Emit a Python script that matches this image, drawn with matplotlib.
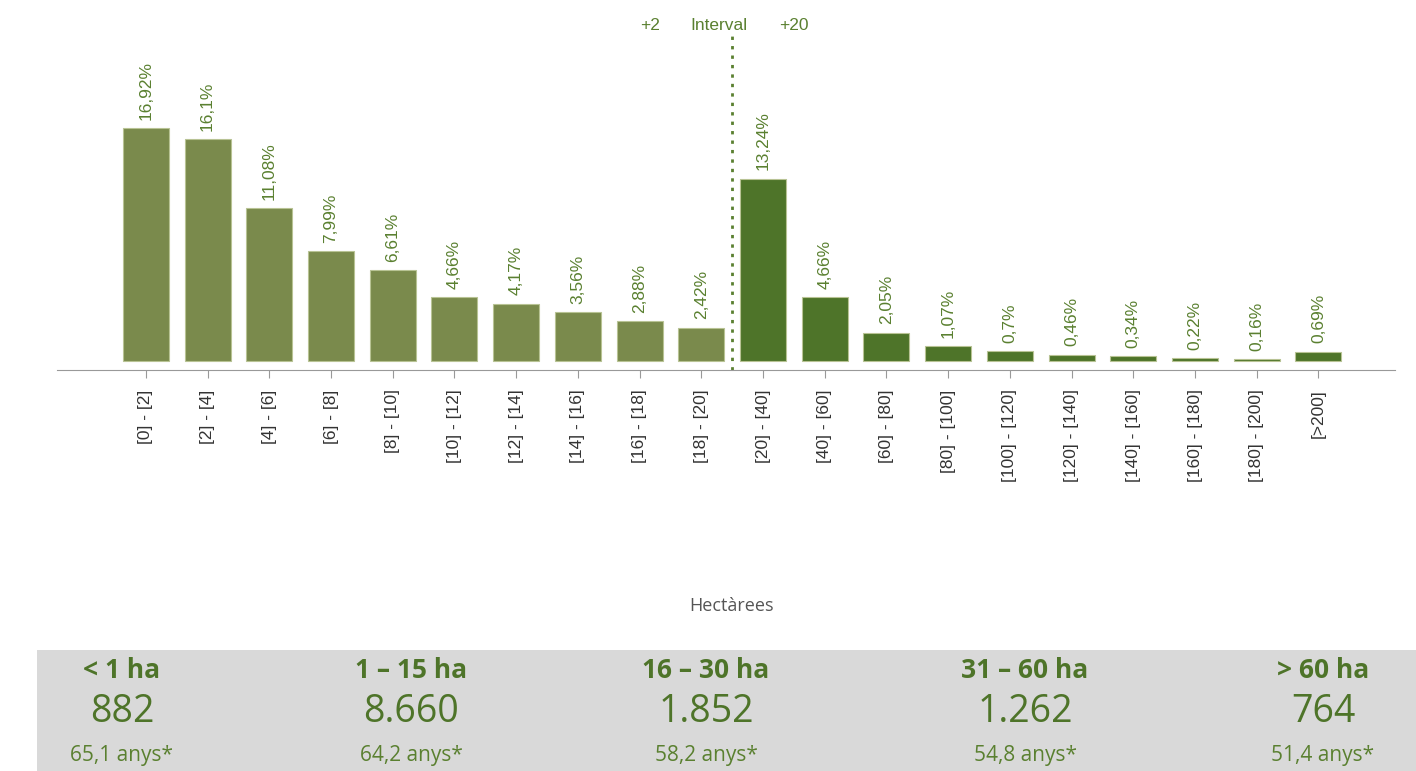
import matplotlib
matplotlib.use('Agg')
import matplotlib.pyplot as plt
from matplotlib.patches import Rectangle

# data
categories = ['[0] - [2]', '[2] - [4]', '[4] - [6]', '[6] - [8]', '[8] - [10]',
              '[10] - [12]', '[12] - [14]', '[14] - [16]', '[16] - [18]', '[18] - [20]',
              '[20] - [40]', '[40] - [60]', '[60] - [80]', '[80] - [100]', '[100] - [120]',
              '[120] - [140]', '[140] - [160]', '[160] - [180]', '[180] - [200]', '[>200]']
percents = [16.92, 16.1, 11.08, 7.99, 6.61, 4.66, 4.17, 3.56, 2.88, 2.42,
            13.24, 4.66, 2.05, 1.07, 0.7, 0.46, 0.34, 0.22, 0.16, 0.69]
labels = ['16,92%', '16,1%', '11,08%', '7,99%', '6,61%', '4,66%', '4,17%', '3,56%', '2,88%', '2,42%',
          '13,24%', '4,66%', '2,05%', '1,07%', '0,7%', '0,46%', '0,34%', '0,22%', '0,16%', '0,69%']
n_small = 10  # bars before the +20 split

groups = ['< 1 ha', '1 – 15 ha', '16 – 30 ha', '31 – 60 ha', '> 60 ha']
counts = ['882', '8.660', '1.852', '1.262', '764']
ages = ['65,1 anys*', '64,2 anys*', '58,2 anys*', '54,8 anys*', '51,4 anys*']
group_x = [122, 411, 706, 1025, 1323]

light = '#7a8a4c'
dark = '#4e7429'
txt_green = '#5a8030'

W, H = 1416, 771
fig = plt.figure(figsize=(W / 100, H / 100), dpi=100)
ax = fig.add_axes([57 / W, 1 - 370 / H, 1338 / W, 370 / H])

colors = [light if i < n_small else dark for i in range(len(percents))]
xs = list(range(len(percents)))
ax.bar(xs, percents, width=0.745, color=colors, edgecolor='#b8c394', linewidth=0.8)

for x, p, lab in zip(xs, percents, labels):
    ax.annotate(lab, (x, p), xytext=(0, 6), textcoords='offset points',
                rotation=90, ha='center', va='bottom', fontsize=12.5,
                color=txt_green, family='Liberation Sans')

ax.set_xlim(-1.44, 20.24)
ax.set_ylim(-0.65, 26.22)
ax.set_xticks(xs)
ax.set_xticklabels(categories, rotation=90, fontsize=12.5, color='#333333',
                   family='Liberation Sans', va='top')
ax.tick_params(axis='x', length=6, color='#999999', pad=8)
ax.set_yticks([])
for s in ['top', 'left', 'right']:
    ax.spines[s].set_visible(False)
ax.spines['bottom'].set_color('#999999')
ax.patch.set_alpha(0)

ax.plot([n_small - 0.5, n_small - 0.5], [-0.65, 23.6], color=txt_green,
        lw=2, linestyle=(0, (1.2, 2.2)))

fig.text(650 / W, 1 - 26 / H, '+2', ha='center', va='center', fontsize=12.5,
         color=txt_green, family='Liberation Sans')
fig.text(719 / W, 1 - 26 / H, 'Interval', ha='center', va='center', fontsize=12.5,
         color=txt_green, family='Liberation Sans')
fig.text(794 / W, 1 - 26 / H, '+20', ha='center', va='center', fontsize=12.5,
         color=txt_green, family='Liberation Sans')

fig.text(732 / W, 1 - 606 / H, 'Hectàrees', ha='center', va='center', fontsize=13,
         color='#555555', family='Open Sans')

fig.patches.append(Rectangle((37 / W, 0), 1 - 37 / W, 121 / H, transform=fig.transFigure,
                             facecolor='#d9d9d9', edgecolor='none', zorder=0))

for gx, g, c, a in zip(group_x, groups, counts, ages):
    fig.text(gx / W, 1 - 670 / H, g, ha='center', va='center', fontsize=19,
             fontweight='bold', color=dark, family='Open Sans')
    fig.text(gx / W, 1 - 712 / H, c, ha='center', va='center', fontsize=27,
             color=dark, family='Open Sans')
    fig.text(gx / W, 1 - 755 / H, a, ha='center', va='center', fontsize=15,
             color=txt_green, family='Open Sans')

fig.savefig('out.png', dpi=100)
